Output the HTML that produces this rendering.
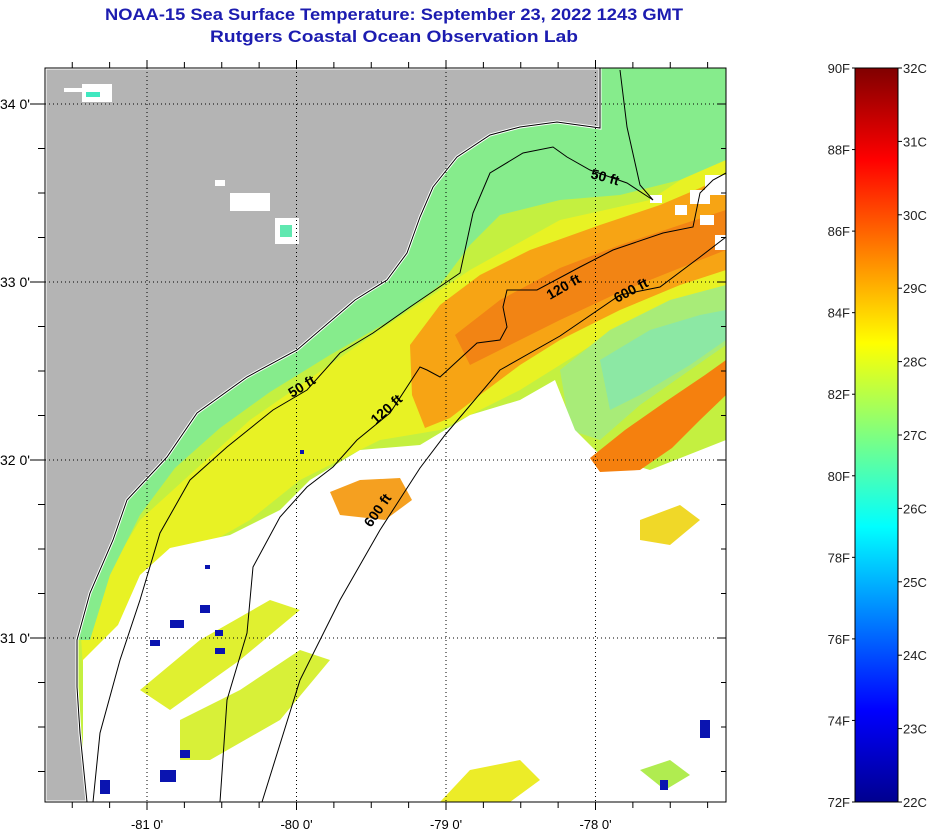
<!DOCTYPE html>
<html><head><meta charset="utf-8"><style>
html,body{margin:0;padding:0;background:#fff;width:936px;height:832px;overflow:hidden}
svg{display:block;font-family:"Liberation Sans",sans-serif}
</style></head><body>
<svg id="c" width="936" height="832" viewBox="0 0 936 832">
<defs>
<linearGradient id="jet" x1="0" y1="1" x2="0" y2="0">
<stop offset="0" stop-color="#00008f"/><stop offset="0.125" stop-color="#0000ff"/>
<stop offset="0.375" stop-color="#00ffff"/><stop offset="0.625" stop-color="#ffff00"/>
<stop offset="0.875" stop-color="#ff0000"/><stop offset="1" stop-color="#800000"/>
</linearGradient>
<clipPath id="mapclip"><rect x="45" y="68" width="681" height="734"/></clipPath>
</defs>
<text x="394" y="20" text-anchor="middle" font-size="17" font-weight="bold" fill="#1c1cb0" textLength="578" lengthAdjust="spacingAndGlyphs">NOAA-15 Sea Surface Temperature:  September 23, 2022 1243 GMT</text>
<text x="394" y="42" text-anchor="middle" font-size="17" font-weight="bold" fill="#1c1cb0" textLength="368" lengthAdjust="spacingAndGlyphs">Rutgers Coastal Ocean Observation Lab</text>

<g clip-path="url(#mapclip)">
<rect x="45" y="68" width="681" height="734" fill="#c4f040"/>
<polygon fill="#e8f224" points="726,150 726,300 600,340 520,390 440,430 380,440 300,480 250,520 180,560 120,640 85,700 80,620 140,520 250,420 380,330 470,270 560,220 650,200"/>
<polygon fill="#86ec8c" points="600,68 726,68 726,160 680,180 620,195 560,200 500,215 470,245 440,285 400,315 330,355 270,392 220,428 175,468 140,515 110,575 90,640 77,640 90,593 113,540 127,500 167,457 197,413 247,377 297,350 355,300 387,280 407,253 420,217 433,187 457,157 490,135 520,127 557,122 600,128"/>
<polygon fill="#f7a414" points="410,345 440,305 480,275 530,250 600,225 660,205 700,188 726,175 726,270 680,285 620,310 560,340 520,365 480,395 450,418 425,428 412,395"/>
<polygon fill="#f28414" points="455,335 500,300 560,268 620,245 680,225 726,210 726,250 680,268 620,292 560,320 510,345 470,365"/>
<polygon fill="#a8ec78" points="560,370 610,330 670,300 726,285 726,345 690,370 640,405 600,440 570,430"/>
<polygon fill="#8ce8a4" points="600,360 650,330 700,315 726,310 726,340 690,365 640,395 610,410"/>
<polygon fill="#ffffff" points="83,660 118,625 140,575 170,548 230,535 280,510 310,480 360,450 420,445 470,415 520,400 555,380 575,430 600,455 650,470 726,440 726,802 83,802"/>
<polygon fill="#f5800e" points="590,458 625,430 665,402 705,375 726,360 726,395 700,420 672,448 640,470 600,472"/>
<polygon fill="#f5a020" points="330,492 360,480 400,478 412,500 385,520 340,515"/>
<g fill="#ffffff">
<rect x="690" y="190" width="20" height="14"/><rect x="705" y="175" width="21" height="20"/><rect x="675" y="205" width="12" height="10"/>
<rect x="700" y="215" width="14" height="10"/><rect x="715" y="235" width="11" height="15"/><rect x="650" y="195" width="12" height="8"/>
</g>
<polygon fill="#e0f030" points="140,690 200,640 270,600 300,610 240,660 170,710"/>
<polygon fill="#d8f038" points="180,720 240,690 300,650 330,660 280,720 210,760 180,760"/>
<polygon fill="#ecec28" points="440,802 470,770 520,760 540,780 510,802"/>
<polygon fill="#f0d828" points="640,520 680,505 700,520 670,545 640,540"/>
<polygon fill="#b0ec50" points="640,770 670,760 690,775 665,790"/>
<g fill="#0a14b0">
<rect x="170" y="620" width="14" height="8"/><rect x="200" y="605" width="10" height="8"/><rect x="215" y="630" width="8" height="6"/>
<rect x="150" y="640" width="10" height="6"/><rect x="215" y="648" width="10" height="6"/><rect x="180" y="750" width="10" height="8"/>
<rect x="160" y="770" width="16" height="12"/><rect x="100" y="780" width="10" height="14"/><rect x="700" y="720" width="10" height="18"/>
<rect x="660" y="780" width="8" height="10"/><rect x="400" y="208" width="6" height="6"/><rect x="68" y="600" width="6" height="6"/>
<rect x="50" y="742" width="18" height="5"/><rect x="205" y="565" width="5" height="4"/><rect x="300" y="450" width="4" height="4"/>
</g>
</g>
<polygon fill="#b4b4b4" stroke="#ffffff" stroke-width="3" points="45,68 600,68 600,128 593,127 557,122 520,127 490,135 457,157 433,187 420,217 407,253 387,280 355,300 297,350 247,377 197,413 167,457 127,500 113,540 90,593 77,640 77,687 80,733 87,802 45,802"/>
<polyline fill="none" stroke="#000" stroke-width="1" points="600,68 600,128 593,127 557,122 520,127 490,135 457,157 433,187 420,217 407,253 387,280 355,300 297,350 247,377 197,413 167,457 127,500 113,540 90,593 77,640 77,687 80,733 87,802"/>
<g fill="#fff">
<rect x="64" y="88" width="20" height="4"/><rect x="82" y="84" width="30" height="18"/><rect x="215" y="180" width="10" height="6"/>
<rect x="230" y="193" width="40" height="18"/><rect x="275" y="218" width="24" height="26"/>
</g>
<rect x="86" y="92" width="14" height="5" fill="#40e8c0"/>
<rect x="280" y="225" width="12" height="12" fill="#60e8b0"/>

<g fill="none" stroke="#000" stroke-width="1">
<polyline points="262,802 300,680 340,600 380,530 420,468 445,435 500,370 560,336 620,295 660,287 700,257 726,237"/>
<polyline points="220,802 227,700 247,633 253,567 280,517 307,487 333,467 357,440 390,413 420,367 427,370 440,377 477,343 500,340 507,327 503,307 507,290 537,290 580,267 613,250 663,233 693,227 700,193 713,180 726,173"/>
<polyline points="93,802 100,733 120,660 140,600 160,533 190,480 227,447 273,410 307,390 340,353 373,333 410,307 460,273 473,213 490,173 523,153 553,147 567,157 590,170 627,183 653,200"/>
<polyline points="653,200 640,185 627,127 620,70"/>
</g>
<g font-size="14" font-weight="bold" fill="#000">
<text transform="translate(590,178) rotate(15)">50 ft</text>
<text transform="translate(550,300) rotate(-30)">120 ft</text>
<text transform="translate(617,303) rotate(-28)">600 ft</text>
<text transform="translate(292,398) rotate(-32)">50 ft</text>
<text transform="translate(376,425) rotate(-42)">120 ft</text>
<text transform="translate(371,528) rotate(-55)">600 ft</text>
</g>
<g id="grid"></g>
<rect x="45" y="68" width="681" height="734" fill="none" stroke="#000" stroke-width="1"/>
<g id="axes"></g>
<rect x="855" y="68" width="43" height="734" fill="url(#jet)" stroke="#000" stroke-width="1"/>
<g id="cbar"></g>
</svg>
<script>
const lonTicks=[-81,-80,-79,-78];
const lonLabels=["-81 0'","-80 0'","-79 0'","-78 0'"];
const latTicks=[34,33,32,31];
const latLabels=["34 0'","33 0'","32 0'","31 0'"];
const fTicks=[72,74,76,78,80,82,84,86,88,90];
const cTicks=[22,23,24,25,26,27,28,29,30,31,32];
const NS="http://www.w3.org/2000/svg";
function xLon(l){return 147+(l+81)*149.5;}
function yLat(l){return 104+(34-l)*178;}
const fMin=72,fMax=90,cMin=22,cMax=32,cbTop=68,cbBot=802;
function yF(f){return cbBot-(f-fMin)/(fMax-fMin)*(cbBot-cbTop);}
function yC(c){return cbBot-(c-cMin)/(cMax-cMin)*(cbBot-cbTop);}
function mk(tag,attrs,parent){const e=document.createElementNS(NS,tag);for(const k in attrs)e.setAttribute(k,attrs[k]);parent.appendChild(e);return e;}
const grid=document.getElementById('grid'),axes=document.getElementById('axes'),cb=document.getElementById('cbar');
lonTicks.forEach((l,i)=>{
 const x=xLon(l);
 const g=mk('line',{x1:x,y1:68,x2:x,y2:802,stroke:'#000','stroke-dasharray':'1,3','stroke-width':1},grid);
 
 
 const t=mk('text',{x:x,y:829,'text-anchor':'middle','font-size':13},axes);
 t.textContent=lonLabels[i];
 
 
});
latTicks.forEach((l,i)=>{
 const y=yLat(l);
 const g=mk('line',{x1:45,y1:y,x2:726,y2:y,stroke:'#000','stroke-dasharray':'1,3','stroke-width':1},grid);
 
 
 const t=mk('text',{x:0,y:y+5,'font-size':14},axes);
 t.textContent=latLabels[i];
 
 
});
for(let l=-81.75;l<=-77.25;l+=0.25){
 const x=xLon(l);if(x<45||x>726)continue;
 const major=Math.abs(l-Math.round(l))<1e-6;
 const a=mk('line',{x1:x,y1:68,x2:x,y2:major?60:62,stroke:'#000'},axes);
 
 
 const b=mk('line',{x1:x,y1:802,x2:x,y2:major?810:808,stroke:'#000'},axes);
 
 
}
for(let l=34.25;l>=30.0;l-=0.25){
 const y=yLat(l);if(y<68||y>802)continue;
 const major=Math.abs(l-Math.round(l))<1e-6;
 const a=mk('line',{x1:45,y1:y,x2:major?30:38,y2:y,stroke:'#000'},axes);
 
 
 const b=mk('line',{x1:726,y1:y,x2:major?718:721,y2:y,stroke:'#000'},axes);
 
 
}
fTicks.forEach(f=>{
 const y=yF(f);
 const t=mk('text',{x:850,y:y+5,'text-anchor':'end','font-size':13,fill:'#222'},cb);
 t.textContent=f+'F';
 
 
 const k=mk('line',{x1:855,y1:y,x2:852,y2:y,stroke:'#000'},cb);
 
 
});
cTicks.forEach(c=>{
 const y=yC(c);
 const t=mk('text',{x:903,y:y+5,'font-size':13,fill:'#222'},cb);
 t.textContent=c+'C';
 
 
 const k=mk('line',{x1:898,y1:y,x2:902,y2:y,stroke:'#000'},cb);
 
 
});
</script>
</body></html>
